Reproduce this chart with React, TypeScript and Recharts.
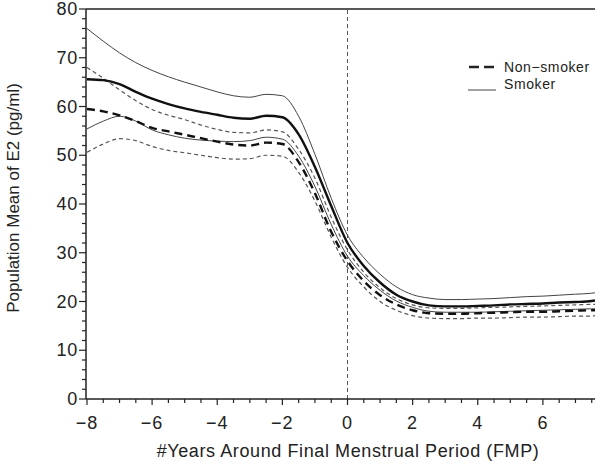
import { LineChart, Line, XAxis, YAxis, ReferenceLine, Label, Legend } from 'recharts'

const years = [-8, -7.5, -7, -6.5, -6, -5.5, -5, -4.5, -4, -3.5, -3, -2.5, -2, -1.5, -1, -0.5, 0, 0.5, 1, 1.5, 2, 2.5, 3, 3.5, 4, 4.5, 5, 5.5, 6, 6.5, 7, 7.5, 7.6]

// smoker: mean and 95% band
const smokerUpper = [76.0, 73.4, 71.0, 69.0, 67.4, 66.1, 65.0, 64.0, 63.0, 62.2, 61.9, 62.5, 62.2, 58.0, 50.2, 41.2, 33.6, 29.0, 25.6, 23.0, 21.4, 20.7, 20.4, 20.4, 20.5, 20.6, 20.8, 21.0, 21.1, 21.3, 21.5, 21.7, 21.8]
const smokerMean = [65.6, 65.4, 64.6, 63.0, 61.6, 60.5, 59.6, 58.9, 58.3, 57.7, 57.5, 58.1, 57.8, 54.3, 47.6, 39.6, 32.0, 27.3, 23.9, 21.4, 20.0, 19.2, 19.0, 19.0, 19.1, 19.2, 19.4, 19.5, 19.6, 19.8, 19.9, 20.1, 20.2]
const smokerLower = [55.4, 57.0, 58.0, 57.0, 55.2, 54.2, 53.5, 53.1, 52.9, 52.8, 53.0, 53.7, 53.3, 49.8, 43.6, 35.8, 29.3, 25.3, 22.3, 20.1, 18.8, 18.0, 17.8, 17.8, 17.8, 17.9, 18.0, 18.1, 18.2, 18.3, 18.4, 18.5, 18.5]

// non-smoker: mean and 95% band
const nonUpper = [68.0, 65.8, 63.4, 61.2, 59.4, 58.2, 57.3, 56.2, 55.3, 54.7, 54.6, 55.2, 54.8, 51.2, 45.3, 37.3, 30.6, 26.0, 22.8, 20.6, 19.3, 18.7, 18.6, 18.6, 18.7, 18.8, 18.9, 19.0, 19.1, 19.2, 19.3, 19.4, 19.4]
const nonMean = [59.5, 59.0, 58.2, 57.0, 55.6, 54.9, 54.2, 53.5, 52.8, 52.2, 52.0, 52.6, 52.3, 48.6, 42.2, 34.3, 28.3, 24.2, 21.3, 19.4, 18.2, 17.6, 17.5, 17.5, 17.6, 17.7, 17.8, 17.9, 17.9, 18.0, 18.1, 18.2, 18.2]
const nonLower = [50.6, 52.3, 53.4, 53.0, 51.8, 51.0, 50.5, 50.0, 49.5, 49.2, 49.3, 50.0, 49.8, 46.5, 40.6, 33.2, 27.0, 23.0, 20.0, 18.2, 17.1, 16.6, 16.5, 16.5, 16.6, 16.6, 16.7, 16.8, 16.8, 16.9, 17.0, 17.0, 17.1]

const xTicks = [-8, -7.5, -7, -6.5, -6, -5.5, -5, -4.5, -4, -3.5, -3, -2.5, -2, -1.5, -1, -0.5, 0, 0.5, 1, 1.5, 2, 2.5, 3, 3.5, 4, 4.5, 5, 5.5, 6, 6.5, 7, 7.5]
const yTicks = [0, 2, 4, 6, 8, 10, 12, 14, 16, 18, 20, 22, 24, 26, 28, 30, 32, 34, 36, 38, 40, 42, 44, 46, 48, 50, 52, 54, 56, 58, 60, 62, 64, 66, 68, 70, 72, 74, 76, 78, 80]

const data = years.map((year, i) => ({
    year,
    su: smokerUpper[i], sm: smokerMean[i], sl: smokerLower[i],
    nu: nonUpper[i], nm: nonMean[i], nl: nonLower[i],
}))

const INK = '#222'
const FONT = 'Liberation Sans, Arial, sans-serif'

const YTick = ({ x, y, payload }: any) => {
    const major = payload.value % 10 === 0
    return (
        <g>
            <line x1={x} x2={x - (major ? 7 : 4)} y1={y} y2={y} stroke={INK} strokeWidth={1.2} />
            {major && (
                <text x={x - 8} y={y} dy={6} textAnchor="end" fontSize={18} letterSpacing={0.8} fill={INK} fontFamily={FONT}>
                    {payload.value}
                </text>
            )}
        </g>
    )
}

const XTick = ({ x, y, payload }: any) => {
    const major = payload.value % 2 === 0
    const label = payload.value < 0 ? '\u2212' + Math.abs(payload.value) : String(payload.value)
    return (
        <g>
            <line x1={x} x2={x} y1={y} y2={y + (major ? 6 : 4)} stroke={INK} strokeWidth={1.2} />
            {major && (
                <text x={x} y={y} dy={30} textAnchor="middle" fontSize={18} letterSpacing={1} fill={INK} fontFamily={FONT}>
                    {label}
                </text>
            )}
        </g>
    )
}

const LegendBox = () => (
    <svg width={140} height={44} style={{ display: 'block' }}>
        <line x1={9} x2={36} y1={13} y2={13} stroke={INK} strokeWidth={2.4} strokeDasharray="10 5" />
        <text x={44} y={18} fontSize={14} letterSpacing={0.6} fill={INK} fontFamily={FONT}>Non{'\u2212'}smoker</text>
        <line x1={8} x2={36} y1={36} y2={36} stroke="#444" strokeWidth={1} />
        <text x={44} y={35} fontSize={14} letterSpacing={0.6} fill={INK} fontFamily={FONT}>Smoker</text>
    </svg>
)

export default function App() {
    return (
        <div style={{ position: 'absolute', left: 0, top: 0, width: 601, height: 465, background: '#fff' }}>
            <LineChart width={601} height={465} data={data} margin={{ top: 9, right: 6, left: 0, bottom: 0 }}>
                <XAxis
                    dataKey="year" type="number" domain={[-8.03, 7.6]} ticks={xTicks} interval={0}
                    height={66} tickSize={0} tickMargin={0} tickLine={false}
                    axisLine={{ stroke: INK, strokeWidth: 1.5 }} tick={<XTick />}
                >
                    <Label content={() => (
                        <text x={348} y={457} textAnchor="middle" fontSize={18} letterSpacing={0.6} fill={INK} fontFamily={FONT}>
                            #Years Around Final Menstrual Period (FMP)
                        </text>
                    )} />
                </XAxis>
                <YAxis
                    type="number" domain={[0, 80]} ticks={yTicks} interval={0}
                    width={86} tickSize={0} tickMargin={0} tickLine={false}
                    axisLine={{ stroke: INK, strokeWidth: 1.5 }} tick={<YTick />}
                >
                    <Label content={() => (
                        <text x={19} y={198} transform="rotate(-90 19 198)" textAnchor="middle" fontSize={17} fill={INK} fontFamily={FONT}>
                            Population Mean of E2 (pg/ml)
                        </text>
                    )} />
                </YAxis>
                <ReferenceLine y={80} stroke={INK} strokeWidth={1.5} />
                <ReferenceLine x={0} stroke="#555" strokeWidth={1} strokeDasharray="4 3" />
                <Legend layout="vertical" align="center" verticalAlign="middle" content={<LegendBox />}
                    wrapperStyle={{ position: 'absolute', left: 460, top: 54, width: 140 }} />
                <Line type="monotone" dataKey="su" stroke="#444" strokeWidth={1} dot={false} isAnimationActive={false} legendType="none" />
                <Line type="monotone" dataKey="sl" stroke="#444" strokeWidth={1} dot={false} isAnimationActive={false} legendType="none" />
                <Line type="monotone" dataKey="nu" stroke="#555" strokeWidth={1.2} strokeDasharray="4 3" dot={false} isAnimationActive={false} legendType="none" />
                <Line type="monotone" dataKey="nl" stroke="#555" strokeWidth={1.2} strokeDasharray="4 3" dot={false} isAnimationActive={false} legendType="none" />
                <Line type="monotone" dataKey="sm" stroke="#111" strokeWidth={2.4} dot={false} isAnimationActive={false} />
                <Line type="monotone" dataKey="nm" stroke="#111" strokeWidth={2.4} strokeDasharray="8 5" dot={false} isAnimationActive={false} />
            </LineChart>
        </div>
    )
}
